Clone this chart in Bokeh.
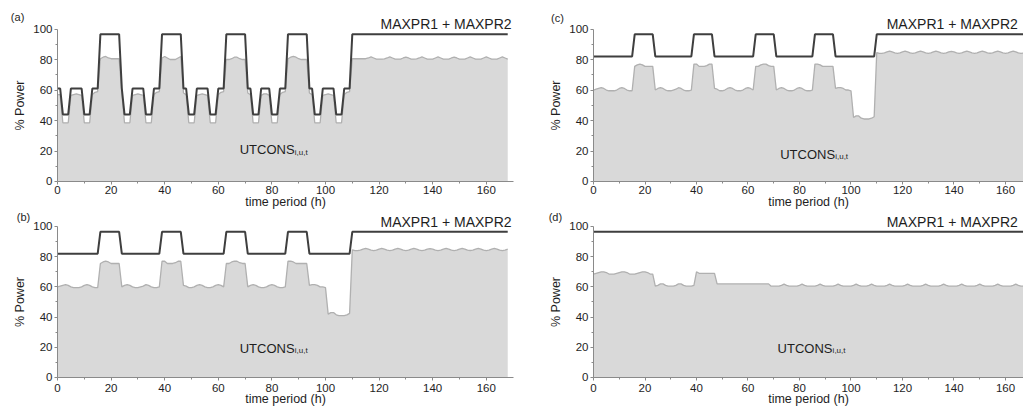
from bokeh.plotting import figure
from bokeh.layouts import column, row
from bokeh.models import Range1d, FixedTicker, ColumnDataSource
from bokeh.embed import file_html
from bokeh.resources import INLINE
from bokeh.core.properties import value

# ---------------- data (hourly, 0..168 h) ----------------
hours = list(range(169))

# MAXPR1 + MAXPR2, case (a)
max_a = [
    61, 61, 44, 44, 44, 61, 61, 61, 61, 61, 44, 44,
    44, 61, 61, 61, 96.5, 96.5, 96.5, 96.5, 96.5, 96.5, 96.5, 96.5,
    61, 44, 44, 44, 61, 61, 61, 61, 61, 44, 44, 44,
    61, 61, 61, 96.5, 96.5, 96.5, 96.5, 96.5, 96.5, 96.5, 96.5, 61,
    61, 44, 44, 44, 61, 61, 61, 61, 61, 44, 44, 44,
    61, 61, 61, 96.5, 96.5, 96.5, 96.5, 96.5, 96.5, 96.5, 96.5, 61,
    61, 44, 44, 44, 61, 61, 61, 61, 44, 44, 44, 61,
    61, 61, 96.5, 96.5, 96.5, 96.5, 96.5, 96.5, 96.5, 96.5, 61, 61,
    44, 44, 44, 61, 61, 61, 61, 61, 44, 44, 44, 61,
    61, 61, 96.5, 96.5, 96.5, 96.5, 96.5, 96.5, 96.5, 96.5, 96.5, 96.5,
    96.5, 96.5, 96.5, 96.5, 96.5, 96.5, 96.5, 96.5, 96.5, 96.5, 96.5, 96.5,
    96.5, 96.5, 96.5, 96.5, 96.5, 96.5, 96.5, 96.5, 96.5, 96.5, 96.5, 96.5,
    96.5, 96.5, 96.5, 96.5, 96.5, 96.5, 96.5, 96.5, 96.5, 96.5, 96.5, 96.5,
    96.5, 96.5, 96.5, 96.5, 96.5, 96.5, 96.5, 96.5, 96.5, 96.5, 96.5, 96.5,
    96.5,
]

# UTCONS, case (a)
ut_a = [
    57, 57, 38.5, 38.5, 38.5, 56.5, 57, 57.5, 57, 56.5, 38.5, 38.5,
    38.5, 57, 58.5, 59, 80.5, 81.5, 82, 81, 80.5, 80.5, 80.5, 80.5,
    58, 38.5, 38.5, 38.5, 56.5, 57, 57.5, 57, 56.5, 38.5, 38.5, 38.5,
    57, 58.5, 59, 81, 82, 81, 80, 80, 80, 81, 82, 58,
    57, 38.5, 38.5, 38.5, 56.5, 57, 57.5, 57, 56.5, 38.5, 38.5, 38.5,
    57, 58.5, 59, 80, 80, 80.5, 81.5, 81.5, 80.5, 80, 80, 58,
    57, 38.5, 38.5, 38.5, 56.5, 57.5, 57.5, 56.5, 38.5, 38.5, 38.5, 57,
    58.5, 59, 80.5, 81.5, 82, 81.5, 80.5, 80, 80, 80, 58, 57,
    38.5, 38.5, 38.5, 56.5, 57, 57.5, 57, 56.5, 38.5, 38.5, 38.5, 57,
    58.5, 59, 80.5, 80.5, 80.5, 80.5, 80.5, 80.5, 81, 81.7, 81, 80.3,
    80.3, 80.3, 80.4, 81, 81.7, 81, 80.3, 80.3, 80.3, 81, 81.6, 81,
    80.3, 80.3, 80.4, 81, 81.7, 81, 80.3, 80.3, 80.3, 81, 81.7, 81,
    80.3, 80.2, 80.3, 81, 81.6, 81, 80.3, 80.3, 80.3, 81, 81.7, 81,
    80.3, 80.3, 80.3, 81, 81.7, 81, 80.3, 80.2, 80.3, 81, 81.7, 81,
    80.3,
]

# MAXPR1 + MAXPR2, cases (b) and (c)
max_b = [
    82, 82, 82, 82, 82, 82, 82, 82, 82, 82, 82, 82,
    82, 82, 82, 82, 96.5, 96.5, 96.5, 96.5, 96.5, 96.5, 96.5, 96.5,
    82, 82, 82, 82, 82, 82, 82, 82, 82, 82, 82, 82,
    82, 82, 82, 96.5, 96.5, 96.5, 96.5, 96.5, 96.5, 96.5, 96.5, 82,
    82, 82, 82, 82, 82, 82, 82, 82, 82, 82, 82, 82,
    82, 82, 82, 96.5, 96.5, 96.5, 96.5, 96.5, 96.5, 96.5, 96.5, 82,
    82, 82, 82, 82, 82, 82, 82, 82, 82, 82, 82, 82,
    82, 82, 96.5, 96.5, 96.5, 96.5, 96.5, 96.5, 96.5, 96.5, 82, 82,
    82, 82, 82, 82, 82, 82, 82, 82, 82, 82, 82, 82,
    82, 82, 96.5, 96.5, 96.5, 96.5, 96.5, 96.5, 96.5, 96.5, 96.5, 96.5,
    96.5, 96.5, 96.5, 96.5, 96.5, 96.5, 96.5, 96.5, 96.5, 96.5, 96.5, 96.5,
    96.5, 96.5, 96.5, 96.5, 96.5, 96.5, 96.5, 96.5, 96.5, 96.5, 96.5, 96.5,
    96.5, 96.5, 96.5, 96.5, 96.5, 96.5, 96.5, 96.5, 96.5, 96.5, 96.5, 96.5,
    96.5, 96.5, 96.5, 96.5, 96.5, 96.5, 96.5, 96.5, 96.5, 96.5, 96.5, 96.5,
    96.5,
]

# UTCONS, cases (b) and (c)
ut_b = [
    60, 60.5, 61, 61.5, 61, 60, 59.5, 59.5, 59.5, 60, 61, 61.5,
    61, 60, 59.5, 59.5, 75.5, 76.5, 77, 76.5, 75.5, 75.5, 75.5, 75.5,
    60, 61, 61.5, 61, 60, 59.5, 59.5, 60, 60.5, 61.5, 61, 60,
    59.5, 59.5, 60, 77, 77, 75.5, 75.5, 75.5, 76, 77, 77, 61,
    60.5, 59.5, 59.5, 60, 61, 61.5, 61, 60, 59.5, 59.5, 60, 61,
    61.5, 61, 60, 75.5, 75.5, 76.5, 77, 77, 76, 75.5, 75.5, 60,
    61, 61.5, 61, 60, 59.5, 59.5, 60, 61, 61.5, 61, 60, 59.5,
    59.5, 60, 77, 77, 76.5, 75.5, 75.5, 75.5, 75.5, 75.5, 61, 61.5,
    61.5, 61, 60, 60, 59.5, 42, 43, 43, 41.5, 41, 41, 41,
    41.5, 42.5, 84.5, 84, 84, 84.3, 85, 85.5, 85, 84.3, 84, 84.3,
    85, 85.5, 85, 84.3, 84, 84.3, 85, 85.5, 85, 84.3, 84, 84.3,
    85, 85.5, 85, 84.3, 84, 84.3, 85, 85.4, 85, 84.3, 84, 84.3,
    85, 85.5, 85, 84.3, 84, 84.3, 85, 85.5, 85, 84.3, 84.1, 84.3,
    85, 85.5, 85, 84.3, 84, 84.3, 85, 85.5, 85, 84.3, 84, 84.3,
    85,
]

# MAXPR1 + MAXPR2, case (d)
max_d = [
    96.5, 96.5, 96.5, 96.5, 96.5, 96.5, 96.5, 96.5, 96.5, 96.5, 96.5, 96.5,
    96.5, 96.5, 96.5, 96.5, 96.5, 96.5, 96.5, 96.5, 96.5, 96.5, 96.5, 96.5,
    96.5, 96.5, 96.5, 96.5, 96.5, 96.5, 96.5, 96.5, 96.5, 96.5, 96.5, 96.5,
    96.5, 96.5, 96.5, 96.5, 96.5, 96.5, 96.5, 96.5, 96.5, 96.5, 96.5, 96.5,
    96.5, 96.5, 96.5, 96.5, 96.5, 96.5, 96.5, 96.5, 96.5, 96.5, 96.5, 96.5,
    96.5, 96.5, 96.5, 96.5, 96.5, 96.5, 96.5, 96.5, 96.5, 96.5, 96.5, 96.5,
    96.5, 96.5, 96.5, 96.5, 96.5, 96.5, 96.5, 96.5, 96.5, 96.5, 96.5, 96.5,
    96.5, 96.5, 96.5, 96.5, 96.5, 96.5, 96.5, 96.5, 96.5, 96.5, 96.5, 96.5,
    96.5, 96.5, 96.5, 96.5, 96.5, 96.5, 96.5, 96.5, 96.5, 96.5, 96.5, 96.5,
    96.5, 96.5, 96.5, 96.5, 96.5, 96.5, 96.5, 96.5, 96.5, 96.5, 96.5, 96.5,
    96.5, 96.5, 96.5, 96.5, 96.5, 96.5, 96.5, 96.5, 96.5, 96.5, 96.5, 96.5,
    96.5, 96.5, 96.5, 96.5, 96.5, 96.5, 96.5, 96.5, 96.5, 96.5, 96.5, 96.5,
    96.5, 96.5, 96.5, 96.5, 96.5, 96.5, 96.5, 96.5, 96.5, 96.5, 96.5, 96.5,
    96.5, 96.5, 96.5, 96.5, 96.5, 96.5, 96.5, 96.5, 96.5, 96.5, 96.5, 96.5,
    96.5,
]

# UTCONS, case (d)
ut_d = [
    68.5, 69, 69.5, 70, 70, 69.5, 68.5, 68.5, 68.5, 69, 69.5, 70,
    70, 69.5, 68.5, 68.5, 68.5, 69, 69.5, 70, 70, 69.5, 68.5, 68.5,
    60.5, 61, 62, 62, 61, 60.5, 60.5, 60.5, 61, 62, 62, 61,
    60.5, 60.5, 60.5, 61, 70, 69, 69, 69, 69, 69, 69, 69,
    62, 62, 62, 62, 62, 62, 62, 62, 62, 62, 62, 62,
    62, 62, 62, 62, 62, 62, 62, 62, 62, 60.5, 60.5, 60.5,
    60.5, 61, 61.8, 61, 60.5, 60.5, 60.5, 60.5, 61, 61.8, 61, 60.5,
    60.5, 60.5, 60.5, 61, 61.8, 61, 60.5, 60.5, 60.5, 60.5, 61, 61.8,
    61, 60.5, 60.5, 60.5, 60.5, 61, 61.8, 61, 60.5, 60.5, 60.5, 61,
    61.8, 61, 60.5, 60.5, 60.5, 60.5, 61, 61.8, 61, 60.5, 60.5, 60.5,
    60.5, 61, 61.8, 61, 60.5, 60.5, 60.5, 60.5, 61, 61.8, 61, 60.5,
    60.5, 60.5, 60.5, 61, 61.8, 61, 60.5, 60.5, 60.5, 60.5, 61, 61.8,
    61, 60.5, 60.5, 60.5, 60.5, 61, 61.8, 61, 60.5, 60.5, 60.5, 60.5,
    61, 61.8, 61, 60.5, 60.5, 60.5, 60.5, 61, 61.8, 61, 60.5, 60.5,
    60.5,
]

x_ticks = [0, 20, 40, 60, 80, 100, 120, 140, 160]
x_minor = [10, 30, 50, 70, 90, 110, 130, 150]
y_ticks = [0, 20, 40, 60, 80, 100]
y_minor = [10, 30, 50, 70, 90]

FONT = "Liberation Sans"
TXT = "#1e1e1e"


def panel(tag, mx, ut, w, h, xr, yr, xmax, tag_xy, max_xy, ut_xy,
          lab_standoff, axlab_standoff):
    p = figure(width=w, height=h, x_range=Range1d(*xr), y_range=Range1d(*yr),
               output_backend="svg", toolbar_location=None,
               min_border_left=0, min_border_right=0,
               min_border_top=0, min_border_bottom=0)
    p.outline_line_color = None
    p.background_fill_color = "white"
    p.border_fill_color = "white"
    p.grid.visible = False

    src = ColumnDataSource(dict(h=hours, ut=ut, mx=mx))
    p.varea(x="h", y1=0, y2="ut", source=src, fill_color="#d9d9d9")
    p.line("h", "ut", source=src, line_color="#b0b0b0", line_width=1.3)
    p.line("h", "mx", source=src, line_color="#3f3f3f", line_width=2)

    p.xaxis.ticker = FixedTicker(ticks=x_ticks, minor_ticks=x_minor)
    p.yaxis.ticker = FixedTicker(ticks=y_ticks, minor_ticks=y_minor)
    p.xaxis.fixed_location = 0
    p.yaxis.fixed_location = 0
    p.xaxis.bounds = (0, xmax)
    p.yaxis.bounds = (0, 100)
    for ax in (p.xaxis, p.yaxis):
        ax.axis_line_color = "#8a8a8a"
        ax.major_tick_line_color = "#8a8a8a"
        ax.minor_tick_line_color = "#8a8a8a"
        ax.major_tick_in = 0
        ax.major_tick_out = 3
        ax.minor_tick_in = 0
        ax.minor_tick_out = 2
        ax.major_label_text_font = FONT
        ax.major_label_text_font_size = "11.5px"
        ax.major_label_text_color = TXT
        ax.axis_label_text_font = FONT
        ax.axis_label_text_font_size = "12.5px"
        ax.axis_label_text_font_style = "normal"
        ax.axis_label_text_color = TXT
    p.xaxis.major_label_standoff = lab_standoff
    p.xaxis.axis_label_standoff = axlab_standoff
    p.yaxis.major_label_standoff = 2
    p.yaxis.axis_label_standoff = 3
    p.xaxis.axis_label = "time period (h)"
    p.yaxis.axis_label = "% Power"

    p.text(x=[tag_xy[0]], y=[tag_xy[1]], text=[tag],
           text_font=value(FONT), text_font_size="11px", text_color=TXT,
           text_align="center", text_baseline="middle")
    p.text(x=[max_xy[0]], y=[max_xy[1]], text=["MAXPR1 +  MAXPR2"],
           text_font=value(FONT), text_font_size="14px", text_color=TXT,
           text_align="right", text_baseline="middle")
    p.text(x=[ut_xy[0]], y=[ut_xy[1]], text=["UTCONS"],
           text_font=value(FONT), text_font_size="13px", text_color=TXT,
           text_align="left", text_baseline="middle")
    p.text(x=[ut_xy[0]], y=[ut_xy[1] - 1.8], text=["i,u,t"], x_offset=55,
           text_font=value(FONT), text_font_size="8px", text_color=TXT,
           text_align="left", text_baseline="middle")
    return p


# left column: x=0 at 57 px, 2.68 px/h ; right column: x=0 at 63 px (of 493), 2.575 px/h
# top row: y=0 at 181 px, 1.525 px/unit ; bottom row: y=0 at 165 px (of 195), 1.51 px/unit
pa = panel("(a)", max_a, ut_a, 530, 212, (-21.27, 176.5), (-20.33, 118.7), 170,
           (-14.9, 108.2), (170.9, 103.4), (68, 21), 2, -3)
pc = panel("(c)", max_b, ut_b, 493, 212, (-24.47, 167.0), (-20.33, 118.7), 167,
           (-14.0, 107.5), (166.3, 103.4), (72.5, 18), 2, -3)
pb = panel("(b)", max_b, ut_b, 530, 195, (-21.27, 176.5), (-19.87, 109.27), 170,
           (-12.7, 106.6), (170.9, 103.3), (68, 19.5), 4, -4)
pd = panel("(d)", max_d, ut_d, 493, 195, (-24.47, 167.0), (-19.87, 109.27), 167,
           (-14.8, 106.6), (166.3, 103.3), (71.5, 19.5), 4, -4)

layout = column(row(pa, pc), row(pb, pd))
open("out.html", "w").write(file_html(layout, INLINE))
